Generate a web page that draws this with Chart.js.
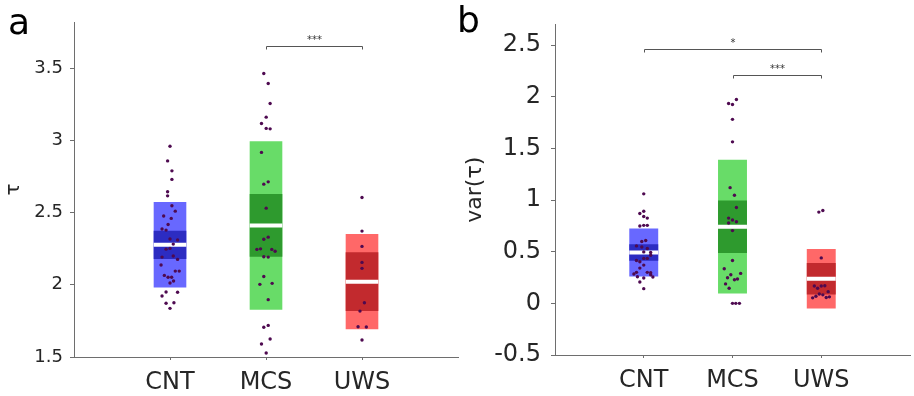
<!DOCTYPE html>
<html>
<head>
<meta charset="utf-8">
<script src="https://cdn.jsdelivr.net/npm/chart.js@4.4.0/dist/chart.umd.min.js"></script>
<style>
    body { margin: 0; background: #fff; width: 914px; height: 396px; position: relative; overflow: hidden; font-family: 'DejaVu Sans', sans-serif; }
    #wrapA { position: absolute; left: 0; top: 0; width: 462px; height: 396px; }
    #wrapB { position: absolute; left: 460px; top: 0; width: 454px; height: 396px; }
    .panel-label { position: absolute; font-size: 36px; line-height: 1; color: #000; }
</style>
</head>
<body>
<div id="wrapA"><canvas id="chartA"></canvas></div>
<div id="wrapB"><canvas id="chartB"></canvas></div>
<div class="panel-label" style="left:8px;top:4px">a</div>
<div class="panel-label" style="left:457px;top:2px">b</div>
<script>
// groups
const categories = ['CNT', 'MCS', 'UWS'];

// panel a : tau
const tauMean = [2.277, 2.411, 2.022];
const tauSD = [0.296, 0.583, 0.329];
const tauCI = [0.098, 0.217, 0.204];
const tauCNT = [2.960, 2.858, 2.789, 2.730, 2.644, 2.616, 2.547, 2.510, 2.476, 2.460, 2.418, 2.386, 2.379, 2.317, 2.310, 2.282, 2.247, 2.252, 2.192, 2.199, 2.176, 2.137, 2.095, 2.095, 2.065, 2.052, 2.052, 2.026, 2.012, 1.950, 1.948, 1.922, 1.872, 1.876, 1.837];
const tauCNTjit = [0, -0.025, 0.02, 0.02, -0.025, -0.025, 0.02, 0.055, -0.066, 0.013, -0.02, -0.083, -0.041, 0, 0.079, 0.034, -0.041, 0, -0.083, 0.034, 0.079, -0.093, 0.055, 0.096, -0.059, -0.02, 0.017, 0.037, 0, -0.041, 0.079, -0.083, -0.041, 0.041, 0];
const tauMCS = [3.463, 3.394, 3.256, 3.161, 3.117, 3.083, 3.080, 2.917, 2.697, 2.713, 2.531, 2.315, 2.330, 2.245, 2.249, 2.245, 2.232, 2.194, 2.192, 2.058, 2.003, 2.010, 1.897, 1.706, 1.719, 1.625, 1.590, 1.528];
const tauMCSjit = [-0.023, 0.023, 0.043, 0.002, -0.047, 0.002, 0.043, -0.047, -0.023, 0.023, 0.002, -0.023, 0.023, -0.095, -0.057, 0.06, 0.095, -0.023, 0.023, -0.023, -0.064, 0.064, 0.023, -0.023, 0.023, 0.043, -0.047, 0.002];
const tauUWS = [2.605, 2.372, 2.266, 2.155, 2.114, 1.876, 1.818, 1.710, 1.708, 1.618];
const tauUWSjit = [0, 0, 0, 0, 0, 0.025, -0.021, -0.041, 0.045, 0];
const tauTicks = [1.5, 2, 2.5, 3, 3.5];
const tauSigPairs = [[2, 3]];
const tauSigLevels = [3.654];
const tauSigLabels = ['***'];

// panel b : var(tau)
const varMean = [0.492, 0.742, 0.238];
const varSD = [0.232, 0.647, 0.288];
const varCI = [0.08, 0.254, 0.152];
const varCNT = [1.060, 0.892, 0.870, 0.841, 0.825, 0.748, 0.755, 0.755, 0.598, 0.608, 0.556, 0.546, 0.531, 0.498, 0.492, 0.466, 0.435, 0.435, 0.415, 0.402, 0.370, 0.341, 0.300, 0.284, 0.300, 0.296, 0.277, 0.258, 0.245, 0.255, 0.207, 0.142];
const varCNTjit = [0, 0, -0.044, 0, 0.04, -0.044, 0, 0.04, -0.022, 0.022, -0.082, -0.022, 0.04, 0, 0.078, 0.078, 0, 0.04, -0.082, -0.044, 0, -0.044, -0.082, -0.111, 0.04, 0.078, 0.078, -0.071, 0, 0.103, -0.044, 0];
const varMCS = [1.973, 1.935, 1.925, 1.781, 1.563, 1.120, 1.046, 0.928, 0.825, 0.806, 0.790, 0.777, 0.704, 0.415, 0.335, 0.290, 0.277, 0.248, 0.229, 0.236, 0.188, 0.146, 0, 0, 0];
const varMCSjit = [0.044, -0.044, 0, 0, 0, -0.027, 0.022, 0.044, -0.044, 0, 0.044, -0.044, 0, 0, -0.093, 0.092, -0.019, -0.056, 0.022, 0.056, -0.078, -0.038, 0, 0.037, 0.078];
const varUWS = [0.883, 0.899, 0.440, 0.168, 0.146, 0.168, 0.171, 0.113, 0.091, 0.082, 0.069, 0.053, 0.056, 0.063];
const varUWSjit = [-0.027, 0.018, 0, -0.078, -0.041, 0, 0.04, 0.078, -0.022, 0.018, -0.06, -0.097, 0.056, 0.092];
const varTicks = [-0.5, 0, 0.5, 1, 1.5, 2, 2.5];
const varSigPairs = [[1, 3], [2, 3]];
const varSigLevels = [2.466, 2.213];
const varSigLabels = ['*', '***'];

// colours
const lightColors = ['#6868ff', '#68dc68', '#ff6868'];
const darkColors = ['#2c2cc2', '#2e9a2e', '#c22a2e'];
const dotColor = '#4e0a50';
const axisColor = '#6e6e6e';
const textColor = '#262626';
const fontFamily = "'DejaVu Sans', sans-serif";

// significance brackets drawn on top of the chart
const bracketPlugin = {
    id: 'brackets',
    afterDraw(chart, args, opts) {
        const ctx = chart.ctx;
        const xs = chart.scales.x;
        const ys = chart.scales.y;
        ctx.save();
        ctx.strokeStyle = '#555';
        ctx.lineWidth = 1;
        ctx.fillStyle = '#333';
        ctx.font = '10px ' + fontFamily;
        ctx.textAlign = 'center';
        ctx.textBaseline = 'alphabetic';
        opts.pairs.forEach((p, i) => {
            const x1 = Math.round(xs.getPixelForValue(p[0])) + 0.5;
            const x2 = Math.round(xs.getPixelForValue(p[1])) + 0.5;
            const y = Math.round(ys.getPixelForValue(opts.levels[i])) + 0.5;
            ctx.beginPath();
            ctx.moveTo(x1, y + 3);
            ctx.lineTo(x1, y);
            ctx.lineTo(x2, y);
            ctx.lineTo(x2, y + 3);
            ctx.stroke();
            ctx.fillText(opts.labels[i], (x1 + x2) / 2, y - 4);
        });
        ctx.restore();
    }
};

// points of one group with their jitter
function groupPoints(values, jitter, k) {
    return values.map((v, i) => ({ x: k + 1 + jitter[i], y: v }));
}

// builds one panel (notBoxPlot style)
function createPanel(id, p) {
    const ctx = document.getElementById(id);
    const boxW = p.boxW;
    const dots = []
        .concat(groupPoints(p.groups[0], p.jits[0], 0))
        .concat(groupPoints(p.groups[1], p.jits[1], 1))
        .concat(groupPoints(p.groups[2], p.jits[2], 2));

    new Chart(ctx, {
        type: 'scatter',
        data: {
            datasets: [{
                label: 'data',
                data: dots,
                pointRadius: 1.7,
                pointBackgroundColor: dotColor,
                pointBorderWidth: 0
            }, {
                label: 'mean',
                data: p.mean.map((m, k) => ({ x: k + 1, y: m })),
                pointStyle: 'line',
                pointRadius: function(c) {
                    const s = c.chart.scales.x;
                    return (s.getPixelForValue(1 + boxW / 2) - s.getPixelForValue(1 - boxW / 2)) / 2;
                },
                pointBorderColor: '#ffffff',
                pointBorderWidth: 4
            }, {
                type: 'bar',
                label: 'ci',
                data: p.mean.map((m, k) => ({ x: k + 1, y: [m - p.ci[k], m + p.ci[k]] })),
                backgroundColor: darkColors,
                borderWidth: 0,
                grouped: false,
                barPercentage: boxW,
                categoryPercentage: 1
            }, {
                type: 'bar',
                label: 'sd',
                data: p.mean.map((m, k) => ({ x: k + 1, y: [m - p.sd[k], m + p.sd[k]] })),
                backgroundColor: lightColors,
                borderWidth: 0,
                grouped: false,
                barPercentage: boxW,
                categoryPercentage: 1
            }]
        },
        options: {
            responsive: true,
            maintainAspectRatio: false,
            animation: false,
            events: [],
            layout: { padding: { top: 22, right: p.padRight, left: 0, bottom: 0 } },
            plugins: {
                legend: { display: false },
                tooltip: { enabled: false },
                brackets: { pairs: p.sigPairs, levels: p.sigLevels, labels: p.sigLabels }
            },
            scales: {
                x: {
                    type: 'linear',
                    min: 0,
                    max: 4,
                    offset: false,
                    afterBuildTicks: s => { s.ticks = categories.map((c, k) => ({ value: k + 1 })); },
                    afterFit: s => { s.height = p.xHeight; },
                    grid: { offset: false, drawOnChartArea: false, drawTicks: true, tickLength: 3, tickColor: axisColor },
                    border: { color: axisColor, width: 1 },
                    ticks: {
                        color: textColor,
                        font: { family: fontFamily, size: 24 },
                        padding: 8,
                        maxRotation: 0,
                        autoSkip: false,
                        callback: v => categories[v - 1] || ''
                    }
                },
                y: {
                    min: p.yMin,
                    max: p.yMax,
                    afterBuildTicks: s => { s.ticks = p.ticks.map(v => ({ value: v })); },
                    afterFit: s => { s.width = p.yWidth; },
                    grid: { drawOnChartArea: false, drawTicks: true, tickLength: 4, tickColor: axisColor },
                    border: { color: axisColor, width: 1 },
                    ticks: {
                        color: textColor,
                        font: { family: fontFamily, size: p.yFont },
                        padding: p.yPad,
                        callback: v => String(v)
                    },
                    title: {
                        display: true,
                        text: p.yTitle,
                        color: textColor,
                        font: { family: fontFamily, size: p.titleFont },
                        padding: { top: p.titlePad, bottom: 0 }
                    }
                }
            }
        },
        plugins: [bracketPlugin]
    });
}

createPanel('chartA', {
    groups: [tauCNT, tauMCS, tauUWS],
    jits: [tauCNTjit, tauMCSjit, tauUWSjit],
    mean: tauMean, sd: tauSD, ci: tauCI,
    ticks: tauTicks, yMin: 1.5, yMax: 3.82,
    sigPairs: tauSigPairs, sigLevels: tauSigLevels, sigLabels: tauSigLabels,
    yTitle: 'τ', titleFont: 20, titlePad: 2,
    yFont: 18, yPad: 7, yWidth: 74, xHeight: 39, padRight: 1, boxW: 0.34
});

createPanel('chartB', {
    groups: [varCNT, varMCS, varUWS],
    jits: [varCNTjit, varMCSjit, varUWSjit],
    mean: varMean, sd: varSD, ci: varCI,
    ticks: varTicks, yMin: -0.5, yMax: 2.7,
    sigPairs: varSigPairs, sigLevels: varSigLevels, sigLabels: varSigLabels,
    yTitle: 'var(τ)', titleFont: 22, titlePad: 2,
    yFont: 24, yPad: 10, yWidth: 95, xHeight: 41, padRight: 0, boxW: 0.326
});
</script>
</body>
</html>
